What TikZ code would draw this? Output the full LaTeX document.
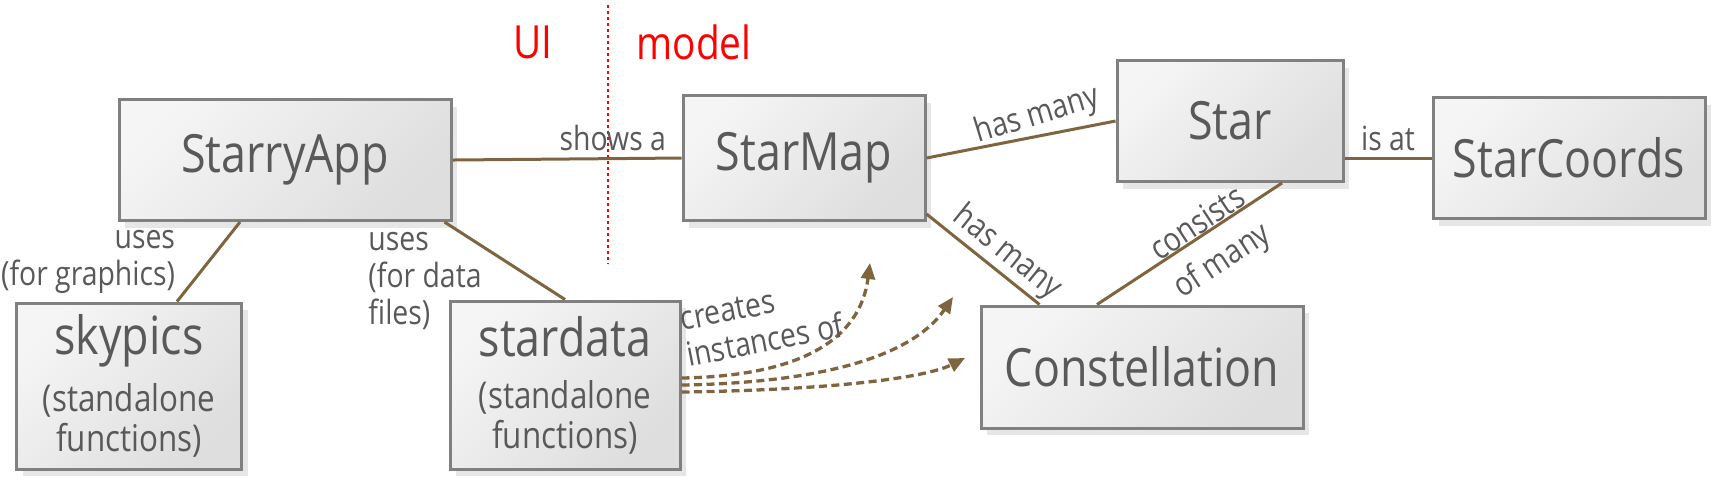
\documentclass[tikz,border=0pt]{standalone}
\usepackage{fontspec}
\setmainfont{Open Sans}[FakeStretch=0.85]
\usetikzlibrary{arrows.meta,shadows}
\definecolor{linkbrown}{HTML}{7F6440}
\definecolor{boxgray}{HTML}{595959}

\begin{document}
\begin{tikzpicture}
[
 x=0.1mm, y=-0.1mm,
 BOX/.style={rectangle, draw=black!50, line width=0.3mm, top color=black!4, bottom color=black!13, shading angle=45, drop shadow={shadow xshift=0.6mm, shadow yshift=-0.7mm, opacity=0.2}, text=boxgray, align=center, inner sep=1mm, font=\fontsize{15}{18}\selectfont},
 LIBBOX/.style={BOX, font=\fontsize{10.5}{11.4}\selectfont},
 LINK/.style={draw=linkbrown, line width=0.3mm},
 MAKES/.style={draw=linkbrown, line width=0.33mm, dash pattern=on 0.8mm off 0.45mm, -{Triangle[length=1.6mm, width=1.4mm]}},
 LBL/.style={text=boxgray, font=\fontsize{9.5}{10.5}\selectfont, inner sep=0.6mm},
 SIDE/.style={text=red, font=\fontsize{13}{15}\selectfont},
 ]
\useasboundingbox (0,0) rectangle (1723,486);
%
\coordinate (divtop) at (608,5);
\coordinate (divbot) at (608,264);
\draw [red, line width=0.25mm, dash pattern=on 0.3mm off 0.3mm] (divtop) -- (divbot);
\node [SIDE] (ui)    at (533,42) {UI};
\node [SIDE] (model) at (694,42) {model};
%
\node [BOX, minimum width=33.2mm, minimum height=12.1mm] (starryapp)     at ( 285,160) {StarryApp};
\node [BOX, minimum width=24.2mm, minimum height=12.5mm] (starmap)       at ( 804,158) {StarMap};
\node [BOX, minimum width=22.6mm, minimum height=12.1mm] (star)          at (1230,121) {Star};
\node [BOX, minimum width=27.2mm, minimum height=12.1mm] (starcoords)    at (1569,158) {StarCoords};
\node [BOX, minimum width=32.2mm, minimum height=12.2mm] (constellation) at (1142,367) {Constellation};
%
\node [LIBBOX, minimum width=22.5mm, minimum height=16.6mm] (skypics)  at (129,386) {{\fontsize{15}{18}\selectfont skypics}\\[1.2mm] (standalone\\functions)};
\node [LIBBOX, minimum width=23.0mm, minimum height=16.8mm] (stardata) at (565,385) {{\fontsize{15}{18}\selectfont stardata}\\[1.2mm] (standalone\\functions)};
%
\draw [LINK] (starryapp.east) -- node [LBL, above, pos=0.7] (showsa) {shows a} (starmap.west);
\draw [LINK] (starmap.east) -- node [LBL, above=-0.4mm, sloped, pos=0.62, rotate=6] (hasstars) {has many} (star.west);
\draw [LINK] (star.east |- starcoords.west) -- node [LBL, above] (isat) {is at} (starcoords.west);
\draw [LINK] ([yshift=0.8mm]starmap.south east) -- node [LBL, above=-0.4mm, sloped, pos=0.6] (hascons) {has many} ([xshift=6mm]constellation.north west);
\draw [LINK] ([xshift=-4.5mm]constellation.north) -- node [LBL, above, sloped, pos=0.58, yshift=-0.6mm] (consists) {consists} node [LBL, below=0.5mm, sloped, pos=0.58, yshift=-0.4mm] (ofmany) {of many} ([xshift=5.2mm]star.south);
%
\draw [LINK] ([xshift=-4.5mm]starryapp.south) -- node [LBL, left=2.6mm, pos=0.5, align=right] (usesgfx) {uses\\(for graphics)} ([xshift=4.8mm]skypics.north);
\draw [LINK] ([xshift=-0.8mm]starryapp.south east) -- node [LBL, left=4.7mm, pos=0.76, align=left] (usesdata) {uses\\(for data\\files)} (stardata.north);
%
\coordinate (inst1) at (870,263);
\coordinate (inst2) at (953,297);
\coordinate (inst3) at (965,358);
\draw [MAKES] ([yshift=0.7mm]stardata.east) .. controls (800,376) and (860,340) .. (inst1);
\draw [MAKES] (stardata.east) .. controls (810,383) and (910,360) .. (inst2);
\draw [MAKES] ([yshift=-0.7mm]stardata.east) .. controls (830,390) and (925,378) .. (inst3);
\node [LBL, rotate=11, align=left] (creates) at (762,323) {creates\\instances of};
%
\end{tikzpicture}
\end{document}
